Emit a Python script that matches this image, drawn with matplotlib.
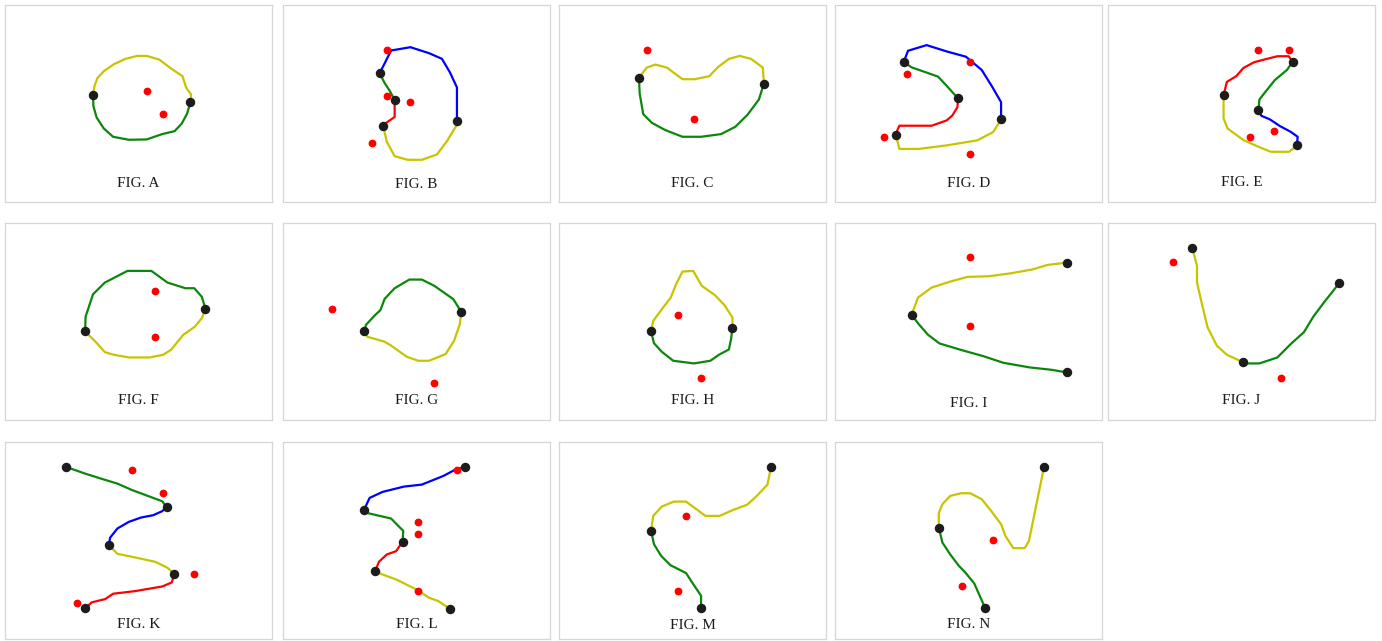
import matplotlib
matplotlib.use("Agg")
import matplotlib.pyplot as plt

# colours of the traced strokes
YEL = '#c8c400'
GRN = '#0b870b'
BLU = '#0000ff'
RED = '#ff0000'
DOT = '#1c1c1c'

# ---- data: points, in the units of each panel's box ----
a_yellow = [(262,284),(266,258),(274,234),(292,213),(320,192),(352,176),(385,167),(412,167),
            (447,178),(480,205),(512,228),(522,262),(536,283),(534,306)]
a_green = [(262,284),(263,318),(272,352),(292,385),(318,410),(362,419),(412,418),(455,402),
           (490,393),(510,370),(525,340),(534,306)]
a_nodes = [(262,284),(534,306)]
a_red = [(414,271),(458,341)]

b_blue = [(1062,215),(1074,190),(1094,147),(1148,137),(1200,155),(1236,172),(1258,212),
          (1278,258),(1278,360)]
b_green = [(1062,215),(1075,243),(1090,268),(1104,296)]
b_redline = [(1104,296),(1104,347),(1080,365),(1072,374)]
b_yellow = [(1072,374),(1082,422),(1104,465),(1140,476),(1180,476),(1222,460),(1250,420),
            (1278,370),(1278,360)]
b_nodes = [(1062,215),(1104,296),(1072,374),(1278,360)]
b_red = [(1082,146),(1082,285),(1148,302),(1040,424)]

c_yellow = [(236,232),(258,202),(282,193),(314,202),(358,237),(392,237),(433,228),(458,200),
            (488,176),(518,167),(550,176),(583,202),(586,250)]
c_green = [(236,232),(238,280),(248,342),(272,368),(310,390),(358,410),(410,410),(466,402),
           (506,380),(540,344),(572,298),(586,250)]
c_nodes = [(236,232),(586,250)]
c_red = [(258,150),(390,358)]

d_blue = [(978,184),(990,150),(1042,133),(1098,152),(1152,168),(1196,208),(1226,260),
          (1250,305),(1250,357)]
d_green = [(978,184),(1000,200),(1040,215),(1074,228),(1100,258),(1120,282),(1130,291)]
d_redline = [(1130,291),(1128,320),(1114,345),(1098,360),(1056,376),(966,376),(960,390),(956,404)]
d_yellow = [(956,404),(966,446),(1020,446),(1100,435),(1184,420),(1228,395),(1250,357)]
d_nodes = [(978,184),(1130,291),(1250,357),(956,404)]
d_red = [(988,220),(1162,185),(924,410),(1162,462)]

e_redline = [(370,285),(380,245),(408,228),(430,203),(462,186),(500,176),(532,168),(566,168),(578,184)]
e_green = [(578,184),(562,208),(548,220),(524,240),(496,275),(478,298),(475,331)]
e_blue = [(475,331),(484,347),(510,358),(540,378),(572,395),(593,410),(591,436)]
e_yellow = [(370,285),(370,355),(382,385),(430,420),(475,440),(512,455),(568,455),(591,436)]
e_nodes = [(578,184),(370,285),(475,331),(591,436)]
e_red = [(475,150),(568,150),(451,410),(521,393)]

f_green = [(240,342),(241,298),(262,230),(295,195),(358,160),(425,160),(470,195),(520,212),
           (545,212),(566,238),(576,274)]
f_yellow = [(240,342),(270,374),(295,404),(320,412),(362,420),(420,420),(458,412),(480,397),
            (514,352),(546,328),(566,302),(576,274)]
f_nodes = [(240,342),(576,274)]
f_red = [(436,221),(436,360)]

g_green = [(1018,342),(1024,322),(1048,294),(1064,278),(1076,244),(1104,212),(1145,186),
           (1180,186),(1215,205),(1268,245),(1290,283)]
g_yellow = [(1018,342),(1028,358),(1074,372),(1092,383),(1138,418),(1170,430),(1200,430),
            (1246,410),(1270,370),(1286,320),(1290,283)]
g_nodes = [(1018,342),(1290,283)]
g_red = [(930,273),(1214,498)]

h_yellow = [(270,342),(276,310),(298,278),(325,240),(340,200),(358,162),(388,160),(412,205),
            (448,232),(475,262),(498,300),(498,331)]
h_green = [(270,342),(278,377),(300,403),(332,430),(390,438),(436,430),(460,412),(488,396),
           (494,365),(498,331)]
h_nodes = [(270,342),(498,331)]
h_red = [(346,291),(410,482)]

i_yellow = [(1000,292),(1018,240),(1056,210),(1108,192),(1156,178),(1216,176),(1272,168),
            (1336,156),(1380,142),(1434,135)]
i_green = [(1000,292),(1020,320),(1046,352),(1078,378),(1140,398),(1200,416),(1256,436),
           (1330,450),(1390,457),(1434,465)]
i_nodes = [(1000,292),(1434,135),(1434,465)]
i_red = [(1163,118),(1163,326)]

j_yellow = [(276,91),(290,145),(290,195),(305,260),(322,330),(350,385),(380,412),(428,434)]
j_green = [(428,434),(442,438),(478,438),(532,420),(572,380),(612,344),(640,298),(672,255),
           (700,220),(719,195)]
j_nodes = [(276,91),(428,434),(719,195)]
j_red = [(218,134),(544,482)]

k_green = [(186,93),(200,98),(240,113),(290,130),(330,143),(370,162),(410,178),(455,196),(468,214)]
k_blue = [(468,214),(455,226),(430,238),(396,245),(362,258),(330,278),(310,305),(306,327)]
k_yellow = [(306,327),(330,354),(380,365),(436,378),(470,396),(489,415)]
k_redline = [(489,415),(482,440),(456,452),(380,466),(318,474),(296,490),(258,500),(240,518)]
k_nodes = [(186,93),(468,214),(306,327),(489,415),(240,518)]
k_red = [(371,102),(458,171),(545,414),(218,501)]

l_blue = [(1300,93),(1270,103),(1240,120),(1180,146),(1130,152),(1070,168),(1034,186),(1018,223)]
l_green = [(1018,223),(1030,232),(1094,248),(1114,270),(1128,285),(1126,318)]
l_redline = [(1126,318),(1108,346),(1082,356),(1060,378),(1050,405)]
l_yellow = [(1050,405),(1060,412),(1110,432),(1170,464),(1200,486),(1226,496),(1258,519)]
l_nodes = [(1300,93),(1018,223),(1126,318),(1050,405),(1258,519)]
l_red = [(1278,103),(1170,258),(1170,293),(1170,466)]

m_yellow = [(270,285),(276,240),(300,212),(334,197),(368,197),(422,240),(462,240),(500,222),
            (540,206),(568,178),(596,146),(606,93)]
m_green = [(270,285),(278,325),(298,360),(324,388),(368,412),(388,445),(410,480),(410,518)]
m_nodes = [(606,93),(270,285),(410,518)]
m_red = [(368,241),(346,466)]

n_yellow = [(1076,275),(1076,232),(1086,205),(1108,180),(1138,172),(1164,172),(1196,190),
            (1220,222),(1250,265),(1262,300),(1284,337),(1316,337),(1328,315),(1370,93)]
n_green = [(1076,275),(1086,320),(1108,356),(1132,390),(1150,410),(1175,443),(1206,518)]
n_nodes = [(1370,93),(1076,275),(1206,518)]
n_red = [(1228,311),(1140,450)]

labels = ['A', 'B', 'C', 'D', 'E', 'F', 'G', 'H', 'I', 'J', 'K', 'L', 'M', 'N']
strokes = [
    [(a_yellow, YEL), (a_green, GRN)],
    [(b_blue, BLU), (b_green, GRN), (b_redline, RED), (b_yellow, YEL)],
    [(c_yellow, YEL), (c_green, GRN)],
    [(d_blue, BLU), (d_green, GRN), (d_redline, RED), (d_yellow, YEL)],
    [(e_redline, RED), (e_green, GRN), (e_blue, BLU), (e_yellow, YEL)],
    [(f_green, GRN), (f_yellow, YEL)],
    [(g_green, GRN), (g_yellow, YEL)],
    [(h_yellow, YEL), (h_green, GRN)],
    [(i_yellow, YEL), (i_green, GRN)],
    [(j_yellow, YEL), (j_green, GRN)],
    [(k_green, GRN), (k_blue, BLU), (k_yellow, YEL), (k_redline, RED)],
    [(l_blue, BLU), (l_green, GRN), (l_redline, RED), (l_yellow, YEL)],
    [(m_yellow, YEL), (m_green, GRN)],
    [(n_yellow, YEL), (n_green, GRN)],
]
nodes = [a_nodes, b_nodes, c_nodes, d_nodes, e_nodes, f_nodes, g_nodes, h_nodes,
         i_nodes, j_nodes, k_nodes, l_nodes, m_nodes, n_nodes]
red_points = [a_red, b_red, c_red, d_red, e_red, f_red, g_red, h_red,
              i_red, j_red, k_red, l_red, m_red, n_red]

# ---- layout: box extents (left, right, top, bottom) in the units used above ----
boxes = [
    (16, 762, 14, 606), (792, 1538, 10, 603), (12, 760, 14, 606), (786, 1532, 12, 606), (22, 826, 14, 606),
    (16, 762, 16, 608), (792, 1538, 16, 608), (12, 760, 16, 608), (786, 1532, 16, 608), (22, 826, 16, 608),
    (16, 762, 18, 610), (792, 1538, 18, 610), (12, 760, 18, 610), (786, 1532, 18, 610),
]
label_y = [550, 550, 550, 550, 548, 550, 550, 550, 557, 550, 565, 565, 570, 565]

W, H = 1382, 641
col_left = [5, 283, 559, 835, 1108]
row_top = [5, 223, 442]
pw, ph = 267, 197

fig = plt.figure(figsize=(W / 100, H / 100), dpi=100)
fig.patch.set_facecolor('white')

for i, lab in enumerate(labels):
    r, c = divmod(i, 5)
    x0, y0 = col_left[c], row_top[r]
    ax = fig.add_axes([x0 / W, 1 - (y0 + ph) / H, pw / W, ph / H])
    left, right, top, bottom = boxes[i]
    ax.set_xlim(left, right)
    ax.set_ylim(bottom, top)
    ax.set_xticks([])
    ax.set_yticks([])
    for sp in ax.spines.values():
        sp.set_color('#d6d6d6')
        sp.set_linewidth(0.9)

    for pts, col in strokes[i]:
        xs, ys = zip(*pts)
        ax.plot(xs, ys, color=col, lw=1.6, solid_capstyle='round', solid_joinstyle='round')
    xs, ys = zip(*nodes[i])
    ax.plot(xs, ys, 'o', color=DOT, ms=5.8, zorder=4)
    xs, ys = zip(*red_points[i])
    ax.plot(xs, ys, 'o', color=RED, ms=4.6, zorder=5)

    ax.text((left + right) / 2, label_y[i], 'FIG. ' + lab, ha='center', va='center',
            fontsize=11, family='Liberation Serif', color='#1a1a1a')

fig.savefig('out.png', dpi=100)
